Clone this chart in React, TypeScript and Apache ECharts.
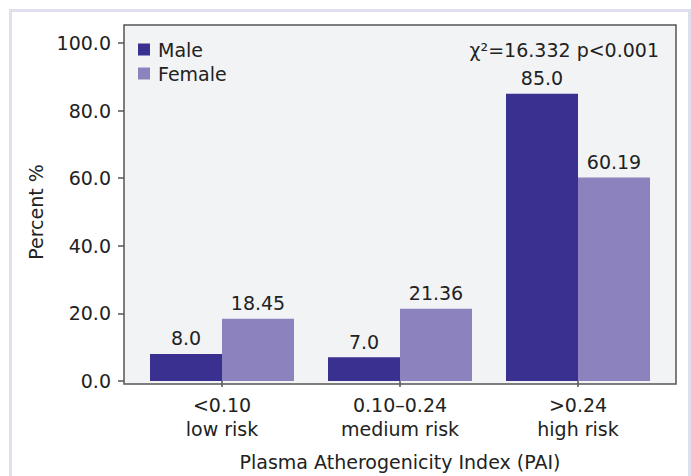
import React, { useEffect, useRef } from "react";
import * as echarts from "echarts";

const categories = ["<0.10\nlow risk", "0.10–0.24\nmedium risk", ">0.24\nhigh risk"];
const maleValues = [8.0, 7.0, 85.0];
const femaleValues = [18.45, 21.36, 60.19];
const statText = "χ²=16.332 p<0.001";

const FONT = "DejaVu Sans";
const FS = 19;
const TEXT = "#222222";

export default function App() {
  const ref = useRef<HTMLDivElement>(null);
  useEffect(() => {
    if (!ref.current) return;
    const chart = echarts.init(ref.current, null, { renderer: "svg" });
    chart.setOption({
      animation: false,
      backgroundColor: "#ffffff",
      textStyle: { fontFamily: FONT },
      graphic: [
        {
          type: "rect",
          z: -10,
          shape: { x: 10.5, y: 10.5, width: 679, height: 480 },
          style: { fill: "#ffffff", stroke: "#dfdff0", lineWidth: 3 },
        },
        {
          type: "rect",
          z: -5,
          shape: { x: 124, y: 25, width: 552, height: 359 },
          style: { fill: "#f2f3f5", stroke: "#555555", lineWidth: 1.5 },
        },
        {
          type: "text",
          z: 10,
          x: 659,
          y: 50,
          style: {
            text: statText,
            fill: TEXT,
            font: `${FS}px "${FONT}"`,
            textAlign: "right",
            textVerticalAlign: "middle",
          },
        },
      ],
      legend: {
        orient: "vertical",
        left: 138,
        top: 40,
        padding: 0,
        itemWidth: 12,
        itemHeight: 12,
        itemGap: 5,
        icon: "rect",
        textStyle: { fontSize: FS, color: TEXT, fontFamily: FONT, padding: [0, 0, 0, 3] },
        data: ["Male", "Female"],
      },
      grid: { left: 133, right: 24, top: 43, bottom: 92, containLabel: false },
      xAxis: {
        type: "category",
        data: categories,
        name: "Plasma Atherogenicity Index (PAI)",
        nameLocation: "middle",
        nameGap: 71,
        nameTextStyle: { fontSize: FS, color: TEXT, fontFamily: FONT },
        axisLine: { show: false },
        axisTick: { show: true, alignWithLabel: true, length: 6, lineStyle: { color: "#555555", width: 1.5 } },
        axisLabel: { fontSize: FS, color: TEXT, lineHeight: 24, margin: 12, fontFamily: FONT },
      },
      yAxis: {
        type: "value",
        min: 0,
        max: 100,
        interval: 20,
        offset: 9,
        name: "Percent %",
        nameLocation: "middle",
        nameGap: 79,
        nameTextStyle: { fontSize: FS, color: TEXT, fontFamily: FONT },
        axisLine: { show: false },
        axisTick: { show: true, length: 6, lineStyle: { color: "#555555", width: 1.5 } },
        splitLine: { show: false },
        axisLabel: {
          fontSize: FS,
          color: TEXT,
          margin: 13,
          fontFamily: FONT,
          formatter: (v: number) => v.toFixed(1),
        },
      },
      series: [
        {
          name: "Male",
          type: "bar",
          data: maleValues,
          barWidth: 72,
          barGap: "0%",
          itemStyle: { color: "#3a308f" },
          label: {
            show: true,
            position: "top",
            distance: 6,
            fontSize: FS,
            color: TEXT,
            fontFamily: FONT,
            formatter: (p: any) => Number(p.value).toFixed(1),
          },
        },
        {
          name: "Female",
          type: "bar",
          data: femaleValues,
          barWidth: 72,
          barGap: "0%",
          itemStyle: { color: "#8c83be" },
          label: {
            show: true,
            position: "top",
            distance: 6,
            fontSize: FS,
            color: TEXT,
            fontFamily: FONT,
            formatter: (p: any) => Number(p.value).toFixed(2),
          },
        },
      ],
    });
    return () => chart.dispose();
  }, []);
  return (
    <div
      ref={ref}
      style={{ position: "fixed", left: 0, top: 0, width: 691, height: 476 }}
    />
  );
}
